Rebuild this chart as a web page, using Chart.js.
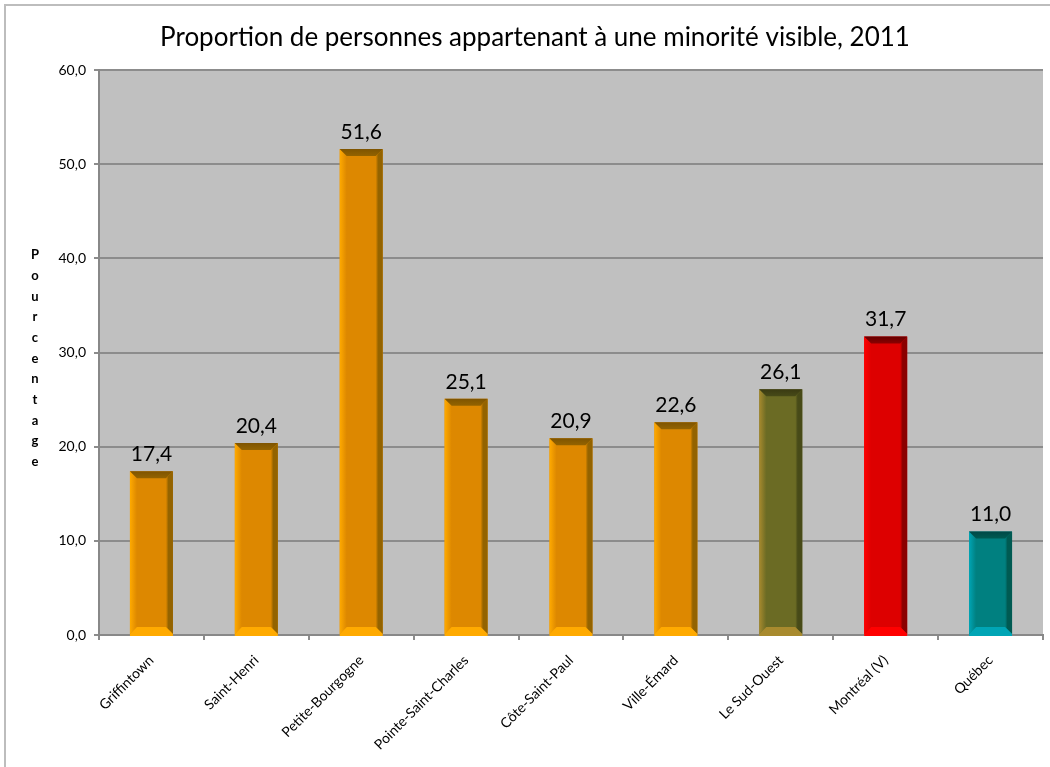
<!DOCTYPE html>
<html>
<head>
<meta charset="utf-8">
<script src="https://cdn.jsdelivr.net/npm/chart.js@4.4.1/dist/chart.umd.min.js"></script>
<style>
  html, body { margin: 0; padding: 0; background: #fff; }
  #wrap { width: 1050px; height: 767px; position: relative; }
</style>
</head>
<body>
<div id="wrap"><canvas id="chart" width="1050" height="767"></canvas></div>
<script>
const categories = ['Griffintown', 'Saint-Henri', 'Petite-Bourgogne', 'Pointe-Saint-Charles',
  'Côte-Saint-Paul', 'Ville-Émard', 'Le Sud-Ouest', 'Montréal (V)', 'Québec'];
const values = [17.4, 20.4, 51.6, 25.1, 20.9, 22.6, 26.1, 31.7, 11.0];
const yTicks = [0, 10, 20, 30, 40, 50, 60];
const chartTitle = 'Proportion de personnes appartenant à une minorité visible, 2011';
const yTitle = 'Pourcentage';

// face / light edge / dark edge / top edge
const orange = ['#DD8800', '#FFAA00', '#936300', '#7E5400'];
const olive = ['#6B6B24', '#A88A2E', '#474A18', '#3A3A12'];
const red = ['#DD0000', '#FF0000', '#8B0000', '#650000'];
const teal = ['#008080', '#00A5B5', '#005A52', '#004846'];
const barStyles = [orange, orange, orange, orange, orange, orange, olive, red, teal];

const FONT = 'Lato, "Open Sans", sans-serif';
const fmt = v => v.toFixed(1).replace('.', ',');

const frame = {
  id: 'frame',
  beforeDraw(chart) {
    const { ctx, chartArea: a } = chart;
    ctx.save();
    ctx.fillStyle = '#fff';
    ctx.fillRect(0, 0, chart.width, chart.height);
    ctx.strokeStyle = '#BDBDBD';
    ctx.lineWidth = 2;
    ctx.strokeRect(5, 5, chart.width + 20, chart.height + 20);
    ctx.fillStyle = '#C0C0C0';
    ctx.fillRect(a.left, a.top, a.right - a.left, a.bottom - a.top);
    ctx.restore();
  },
  afterDraw(chart) {
    const { ctx, chartArea: a } = chart;
    ctx.save();
    ctx.fillStyle = '#000';
    ctx.font = 'bold 13px ' + FONT;
    ctx.textAlign = 'center';
    ctx.textBaseline = 'middle';
    const step = 20.7;
    const mid = (a.top + a.bottom) / 2 + 6;
    const letters = yTitle.split('');
    letters.forEach((ch, i) => {
      ctx.fillText(ch, 35, mid + (i - (letters.length - 1) / 2) * step);
    });
    ctx.restore();
  }
};

const bevel = {
  id: 'bevel',
  afterDatasetsDraw(chart) {
    const { ctx } = chart;
    const meta = chart.getDatasetMeta(0);
    ctx.save();
    meta.data.forEach((bar, i) => {
      const { x, y, base, width } = bar.getProps(['x', 'y', 'base', 'width'], true);
      const st = barStyles[i];
      const L = x - width / 2, R = x + width / 2, T = y, B = base;
      const b = 7;
      const poly = (pts, col) => {
        ctx.beginPath();
        ctx.moveTo(pts[0][0], pts[0][1]);
        pts.slice(1).forEach(p => ctx.lineTo(p[0], p[1]));
        ctx.closePath();
        ctx.fillStyle = col;
        ctx.fill();
      };
      const lg = ctx.createLinearGradient(L, 0, L + b, 0);
      lg.addColorStop(0, st[1]); lg.addColorStop(1, st[0]);
      poly([[L, T], [L + b, T + b], [L + b, B - b], [L, B]], lg);
      const rg = ctx.createLinearGradient(R - b, 0, R, 0);
      rg.addColorStop(0, st[0]); rg.addColorStop(0.35, st[2]); rg.addColorStop(1, st[2]);
      poly([[R, T], [R - b, T + b], [R - b, B - b], [R, B]], rg);
      const tg = ctx.createLinearGradient(0, T, 0, T + b);
      tg.addColorStop(0, st[3]); tg.addColorStop(1, st[2]);
      poly([[L, T], [R, T], [R - b, T + b], [L + b, T + b]], tg);
      poly([[L, B], [R, B], [R - b, B - b], [L + b, B - b]], st[1]);
      ctx.fillStyle = st[1];
      ctx.fillRect(L, B, width, 2);

      ctx.fillStyle = '#000';
      ctx.font = '21px ' + FONT;
      ctx.textAlign = 'center';
      ctx.textBaseline = 'alphabetic';
      ctx.fillText(fmt(values[i]), x, T - 10);
    });
    ctx.restore();
  }
};

new Chart(document.getElementById('chart'), {
  type: 'bar',
  data: {
    labels: categories,
    datasets: [{
      data: values,
      backgroundColor: barStyles.map(s => s[0]),
      borderWidth: 0,
      barPercentage: 0.41,
      categoryPercentage: 1.0
    }]
  },
  options: {
    responsive: false,
    animation: false,
    layout: { padding: { left: 27, right: 7, top: 0, bottom: 0 } },
    plugins: {
      legend: { display: false },
      tooltip: { enabled: false },
      title: {
        display: true,
        text: chartTitle,
        color: '#000',
        font: { family: FONT, size: 26, weight: 'normal', lineHeight: 1.2 },
        padding: { top: 22, bottom: 16.8 }
      }
    },
    scales: {
      x: {
        offset: true,
        grid: { offset: true, drawOnChartArea: false, drawTicks: true, tickLength: 5, color: '#8C8C8C', lineWidth: 2 },
        border: { color: '#888888', width: 2 },
        ticks: { autoSkip: false, minRotation: 45, maxRotation: 45, color: '#000', padding: 12,
          font: { family: FONT, size: 14 } },
        afterFit(s) { s.height = 132; }
      },
      y: {
        min: 0,
        max: 60,
        afterBuildTicks(s) { s.ticks = yTicks.map(v => ({ value: v })); },
        grid: { color: '#8C8C8C', lineWidth: 2, tickLength: 5 },
        border: { color: '#888888', width: 2 },
        ticks: { color: '#000', padding: 8, font: { family: FONT, size: 14 }, callback: v => fmt(v) },
        afterFit(s) { s.width = 72; }
      }
    }
  },
  plugins: [frame, bevel]
});
</script>
</body>
</html>
